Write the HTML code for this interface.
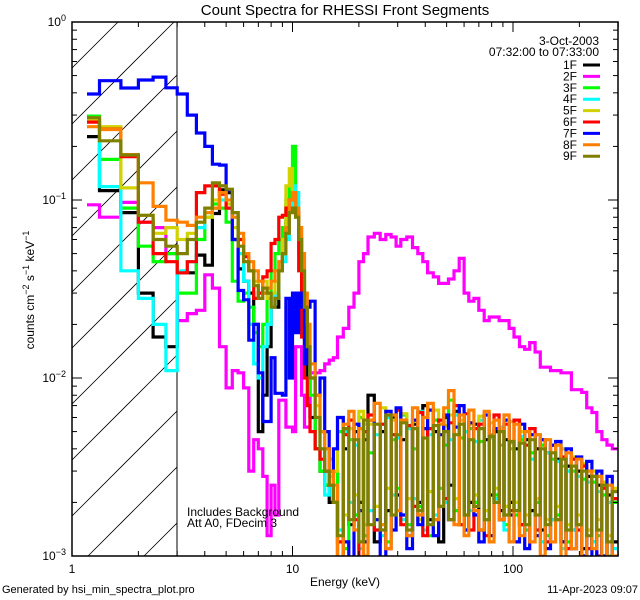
<!DOCTYPE html>
<html><head><meta charset="utf-8"><style>
html,body{margin:0;padding:0;background:#fff;width:640px;height:600px;overflow:hidden;}
svg{display:block;font-family:"Liberation Sans",sans-serif;}
</style></head><body>
<svg id="chart" width="640" height="600" viewBox="0 0 640 600">
<defs><clipPath id="pc"><rect x="72" y="22" width="546" height="534"/></clipPath>
<clipPath id="hc"><rect x="72" y="22" width="105" height="534"/></clipPath></defs>
<rect x="0" y="0" width="640" height="600" fill="#fff"/>
<text x="345" y="15" font-size="15" text-anchor="middle">Count Spectra for RHESSI Front Segments</text>
<g id="hatch" clip-path="url(#hc)"></g>
<line x1="177" y1="22" x2="177" y2="556" stroke="#000" stroke-width="1"/>
<g id="series" clip-path="url(#pc)"></g>
<rect x="72" y="22" width="546" height="534" fill="none" stroke="#000" stroke-width="1.5"/>
<g id="ticks"></g>
<text transform="translate(34,290) rotate(-90)" font-size="12" text-anchor="middle">counts cm<tspan dy="-5" font-size="9">−2</tspan><tspan dy="5"> s</tspan><tspan dy="-5" font-size="9">−1</tspan><tspan dy="5"> keV</tspan><tspan dy="-5" font-size="9">−1</tspan></text>
<text x="345" y="586" font-size="12" text-anchor="middle">Energy (keV)</text>
<text x="2" y="593" font-size="11">Generated by hsi_min_spectra_plot.pro</text>
<text x="638" y="593" font-size="11" text-anchor="end">11-Apr-2023 09:07</text>
<text x="187" y="516" font-size="12">Includes Background</text>
<text x="187" y="527" font-size="12">Att A0, FDecim 3</text>
<text x="599" y="45" font-size="12" text-anchor="end">3-Oct-2003</text>
<text x="599" y="56" font-size="12" text-anchor="end">07:32:00 to 07:33:00</text>
<g id="legend"></g>
</svg>
<script>
const edges=[1.17,1.333,1.667,2,2.333,2.667,3,3.333,3.667,4,4.333,4.667,5,5.333,5.667,6,6.333,6.667,7,7.333,7.667,8,8.333,8.667,9,9.333,9.667,10,10.333,10.667,11,11.333,11.667,12,12.667,13.333,14,14.667,15.333,16,17,18,19,20,21,22,23.5,25,26.5,28,29.5,31,33,35,37,39,41,43.5,46,48.5,51,54,57,60,63,66.5,70,74,78,82,86.5,91,96,101,107,113,119,126,133,140,148,156,165,174,184,194,205,216,228,240,253,267,282,300];
const seriesNames=["1F","2F","3F","4F","5F","6F","7F","8F","9F"];
const seriesColors=["#000000","#ff00ff","#00ff00","#00ffff","#d2d200","#ff0000","#0000ff","#ff8000","#808000"];
const s1F=[0.227,0.113,0.085,0.03,0.017,0.015,0.039,0.039,0.049,0.043,0.084,0.114,0.11,0.06,0.041,0.035,0.03,0.02,0.005,0.008,0.015,0.03,0.025,0.04,0.06,0.075,0.09,0.09,0.085,0.06,0.03,0.015,0.01,0.006,0.004,0.003,0.0025,0.002,0.003,
0.0009,0.004,0.0015,0.005,0.002,0.0045,0.008,0.0012,0.005,0.0018,0.006,0.0022,0.0045,0.0013,0.0055,0.002,0.007,0.0016,0.005,0.0012,0.006,0.0025,0.0065,0.0015,0.005,0.002,0.0055,0.0014,0.0045,0.0022,0.005,0.0018,0.0045,0.002,0.004,0.0015,0.0045,0.0018,0.004,0.0014,0.0038,0.0016,0.0035,0.0012,0.0032,0.0014,0.003,0.0011,0.0028,0.0012,0.0025,0.001,0.0022,0.0012];
const s2F=[0.094,0.08,0.097,0.075,0.07,0.05,0.021,0.023,0.024,0.038,0.032,0.015,0.0088,0.011,0.0107,0.0088,0.003,0.0045,0.004,0.0028,0.0013,0.0025,0.0017,0.0075,0.0075,0.0053,0.0053,0.005,0.015,0.015,0.008,0.0053,0.0053,0.0107,0.0107,0.011,0.012,0.0126,0.013,
0.017,0.019,0.025,0.03,0.045,0.05,0.062,0.065,0.06,0.064,0.062,0.055,0.06,0.062,0.054,0.05,0.045,0.039,0.037,0.034,0.034,0.036,0.04,0.047,0.03,0.027,0.028,0.024,0.021,0.022,0.022,0.021,0.021,0.019,0.017,0.015,0.0145,0.0158,0.014,0.0115,0.0115,0.011,0.011,0.0107,0.0107,0.0086,0.0086,0.0083,0.0068,0.0064,0.005,0.0045,0.0042,0.004];
const s3F=[0.296,0.169,0.09,0.055,0.045,0.05,0.03,0.03,0.06,0.08,0.095,0.09,0.075,0.035,0.027,0.03,0.025,0.018,0.015,0.02,0.03,0.04,0.05,0.06,0.07,0.1,0.12,0.2,0.09,0.06,0.035,0.02,0.012,0.008,0.004,0.003,0.0025,0.003,0.002,
0.005,0.0011,0.0045,0.0017,0.006,0.0013,0.0038,0.0016,0.0055,0.0012,0.0045,0.0024,0.0062,0.0015,0.004,0.0019,0.0052,0.0013,0.0058,0.0024,0.0042,0.0075,0.0018,0.0046,0.0014,0.0052,0.002,0.0044,0.0016,0.0048,0.0022,0.0042,0.0015,0.004,0.0017,0.0045,0.0014,0.0038,0.002,0.0042,0.0013,0.0035,0.0017,0.0032,0.0012,0.003,0.0015,0.0027,0.0011,0.0026,0.0013,0.0022,0.001,0.002];
const s4F=[0.28,0.119,0.04,0.028,0.02,0.011,0.04,0.045,0.07,0.085,0.09,0.1,0.09,0.08,0.05,0.035,0.02,0.012,0.01,0.015,0.02,0.025,0.03,0.04,0.045,0.06,0.09,0.12,0.11,0.07,0.04,0.025,0.015,0.01,0.006,0.004,0.0022,0.0028,0.002,
0.0014,0.005,0.002,0.0042,0.0011,0.0055,0.0018,0.0048,0.0013,0.006,0.0022,0.0046,0.0016,0.0052,0.0021,0.0065,0.0014,0.0048,0.0017,0.0055,0.002,0.0045,0.0062,0.0015,0.005,0.0018,0.0044,0.0058,0.0016,0.0046,0.0021,0.0053,0.0014,0.0043,0.0018,0.0047,0.0015,0.0035,0.0048,0.0012,0.0038,0.0016,0.0034,0.0011,0.003,0.0014,0.0028,0.001,0.0026,0.0012,0.0023,0.0009,0.002,0.0011];
const s5F=[0.28,0.258,0.117,0.082,0.065,0.07,0.06,0.065,0.075,0.08,0.1,0.12,0.095,0.07,0.06,0.045,0.04,0.035,0.03,0.035,0.028,0.03,0.035,0.04,0.06,0.12,0.15,0.11,0.08,0.05,0.03,0.02,0.015,0.01,0.007,0.005,0.004,0.0035,0.003,
0.006,0.0017,0.0052,0.0022,0.0065,0.0015,0.0055,0.0019,0.0068,0.0024,0.0058,0.0018,0.0063,0.0021,0.0057,0.0016,0.006,0.0023,0.0066,0.0019,0.0054,0.0062,0.0021,0.0058,0.0017,0.0055,0.0022,0.0061,0.0018,0.0056,0.0024,0.0052,0.0019,0.0057,0.002,0.005,0.0017,0.0048,0.0021,0.0045,0.0016,0.0042,0.0019,0.004,0.0015,0.0036,0.0017,0.0033,0.0014,0.003,0.0016,0.0026,0.0013,0.0024];
const s6F=[0.274,0.25,0.175,0.075,0.05,0.045,0.039,0.045,0.11,0.12,0.12,0.108,0.09,0.085,0.06,0.048,0.04,0.028,0.03,0.037,0.04,0.057,0.06,0.08,0.082,0.09,0.1,0.11,0.085,0.04,0.017,0.01,0.007,0.005,0.004,0.0035,0.003,0.0025,0.002,
0.0012,0.0048,0.0058,0.0016,0.0009,0.005,0.0062,0.0014,0.0055,0.0011,0.0048,0.0066,0.0015,0.0054,0.0019,0.0064,0.0013,0.0052,0.0016,0.0058,0.0021,0.0056,0.007,0.0015,0.0063,0.0014,0.0052,0.0055,0.0013,0.0047,0.0062,0.0016,0.0055,0.0018,0.0058,0.0015,0.0042,0.0052,0.0014,0.0045,0.0012,0.0042,0.0016,0.0036,0.0011,0.0035,0.0014,0.0032,0.0011,0.0028,0.001,0.0024,0.0009,0.0021];
const s7F=[0.394,0.468,0.426,0.472,0.49,0.427,0.394,0.3,0.238,0.2,0.159,0.157,0.114,0.06,0.031,0.0275,0.0163,0.02,0.0107,0.0057,0.0057,0.013,0.0082,0.0082,0.008,0.028,0.01,0.03,0.018,0.03,0.025,0.012,0.025,0.027,0.008,0.01,0.005,0.003,0.004,
0.006,0.0012,0.0009,0.0055,0.0018,0.0012,0.0058,0.0016,0.0009,0.0065,0.0014,0.0068,0.0017,0.0011,0.0058,0.0015,0.0052,0.0066,0.0013,0.0048,0.0062,0.0016,0.0053,0.007,0.0014,0.0056,0.0017,0.0012,0.0062,0.0013,0.0052,0.0016,0.0058,0.0017,0.0012,0.0055,0.0011,0.0048,0.0013,0.0045,0.0011,0.0042,0.0044,0.0012,0.004,0.0011,0.0036,0.001,0.0034,0.0009,0.003,0.001,0.0028,0.0009];
const s8F=[0.258,0.249,0.18,0.125,0.092,0.077,0.075,0.072,0.08,0.085,0.09,0.11,0.1,0.08,0.065,0.05,0.045,0.04,0.035,0.03,0.032,0.035,0.04,0.045,0.05,0.07,0.1,0.11,0.09,0.07,0.05,0.03,0.02,0.012,0.008,0.005,0.004,0.003,0.0025,
0.0009,0.0055,0.0065,0.0014,0.0052,0.001,0.0058,0.0072,0.0015,0.0011,0.0062,0.0018,0.0058,0.0013,0.0068,0.0017,0.006,0.0072,0.0016,0.0055,0.0068,0.0085,0.0015,0.0062,0.0013,0.0066,0.0018,0.0014,0.0065,0.0012,0.0058,0.0016,0.0062,0.0012,0.0055,0.0013,0.005,0.0012,0.0048,0.001,0.0045,0.0012,0.0042,0.0009,0.0038,0.0011,0.0035,0.0009,0.003,0.0011,0.0028,0.0009,0.0025,0.001];
const s9F=[0.29,0.215,0.179,0.082,0.06,0.055,0.05,0.06,0.075,0.09,0.125,0.12,0.115,0.085,0.055,0.045,0.04,0.033,0.028,0.032,0.03,0.025,0.028,0.04,0.05,0.065,0.085,0.09,0.08,0.06,0.04,0.025,0.015,0.01,0.006,0.004,0.003,0.0025,0.002,
0.0013,0.0052,0.0016,0.0045,0.0012,0.0058,0.0015,0.0055,0.0014,0.0062,0.0017,0.0048,0.0056,0.0014,0.0052,0.0018,0.0046,0.0015,0.0054,0.0019,0.005,0.0016,0.0048,0.0055,0.0017,0.0045,0.0019,0.0052,0.0016,0.0047,0.002,0.005,0.0017,0.0044,0.0018,0.0043,0.0015,0.0045,0.0017,0.004,0.0015,0.0038,0.0016,0.0035,0.0014,0.0032,0.0015,0.003,0.0013,0.0028,0.0014,0.0025,0.0012,0.0023];
const seriesValues=[s1F,s2F,s3F,s4F,s5F,s6F,s7F,s8F,s9F];
const xTickMajor=[1,10,100];
const xTickLabels=["1","10","100"];
const yTickMajor=[1,0.1,0.01,0.001];
const yTickExp=["0","−1","−2","−3"];

const NS="http://www.w3.org/2000/svg";
const X0=72,X1=618,Y0=22,Y1=556,XD=220.5,YD=178;
function xs(e){return X0+XD*Math.log10(e);}
function ys(v){return Y0-YD*Math.log10(v);}
function yc(v){return Math.min(Y1+3,ys(v));}
function mk(tag,attrs,parent){const el=document.createElementNS(NS,tag);for(const k in attrs)el.setAttribute(k,attrs[k]);parent.appendChild(el);return el;}

// hatch lines: 45 deg, clipped analytically to hatch box
const hatch=document.getElementById('hatch');
const HX0=72,HX1=177;
for(let c=-100;c<700;c+=56){
  // line y = c - (x - HX0)
  let xa=HX0,ya=c; let xb=HX1,yb=c-(HX1-HX0);
  if(ya>Y1){xa=HX0+(ya-Y1);ya=Y1;}
  if(yb<Y0){xb=HX0+(c-Y0);yb=Y0;}
  if(xa>=xb)continue;
  const l=mk('line',{x1:xa,y1:ya,x2:xb,y2:yb,stroke:'#000','stroke-width':0.8},hatch);
  
  
}

const sg=document.getElementById('series');
seriesValues.forEach((vals,i)=>{
  let d='M'+xs(edges[0]).toFixed(1)+' '+yc(vals[0]).toFixed(1);
  for(let j=0;j<vals.length;j++){
    const y=yc(vals[j]).toFixed(1);
    if(j>0)d+=' V'+y;
    d+=' H'+Math.min(X1,xs(edges[j+1])).toFixed(1);
  }
  const p=mk('path',{d:d,fill:'none',stroke:seriesColors[i],'stroke-width':3.2,'stroke-linejoin':'miter'},sg);
  
  
});

const tg=document.getElementById('ticks');
for(let dec=0;dec<3;dec++){
  for(let m=1;m<=9;m++){
    const e=Math.pow(10,dec)*m; const x=xs(e); if(x>X1+0.5)continue;
    const len=m===1?10:5;
    const t1=mk('line',{x1:x,y1:Y1,x2:x,y2:Y1-len,stroke:'#000','stroke-width':1},tg);
    
    
    const t2=mk('line',{x1:x,y1:Y0,x2:x,y2:Y0+len,stroke:'#000','stroke-width':1},tg);
    
    
  }
}
xTickMajor.forEach((e,i)=>{
  const t=mk('text',{x:xs(e),y:Y1+17,'font-size':12,'text-anchor':'middle'},tg);
  t.textContent=xTickLabels[i];
  
  
});
for(let dec=-3;dec<0;dec++){
  for(let m=1;m<=9;m++){
    const v=Math.pow(10,dec)*m; const y=ys(v);
    const len=m===1?10:5;
    const a=mk('line',{x1:X0,y1:y,x2:X0+len,y2:y,stroke:'#000','stroke-width':1},tg);
    
    
    const b=mk('line',{x1:X1,y1:y,x2:X1-len,y2:y,stroke:'#000','stroke-width':1},tg);
    
    
  }
}
yTickMajor.forEach((v,i)=>{
  const t=mk('text',{x:X0-6,y:ys(v)+4,'font-size':12,'text-anchor':'end'},tg);
  
  
  const a=document.createElementNS(NS,'tspan');a.textContent='10';t.appendChild(a);
  const b=document.createElementNS(NS,'tspan');b.setAttribute('dy','-5');b.setAttribute('font-size','9');b.textContent=yTickExp[i];t.appendChild(b);
});

const lg=document.getElementById('legend');
seriesNames.forEach((n,i)=>{
  const y=65+i*11.4;
  const t=mk('text',{x:577,y:y+4,'font-size':12,'text-anchor':'end'},lg);
  t.textContent=n;
  
  
  const l=mk('line',{x1:583,y1:y,x2:600,y2:y,stroke:seriesColors[i],'stroke-width':3},lg);
  
  
});
</script>
</body></html>
